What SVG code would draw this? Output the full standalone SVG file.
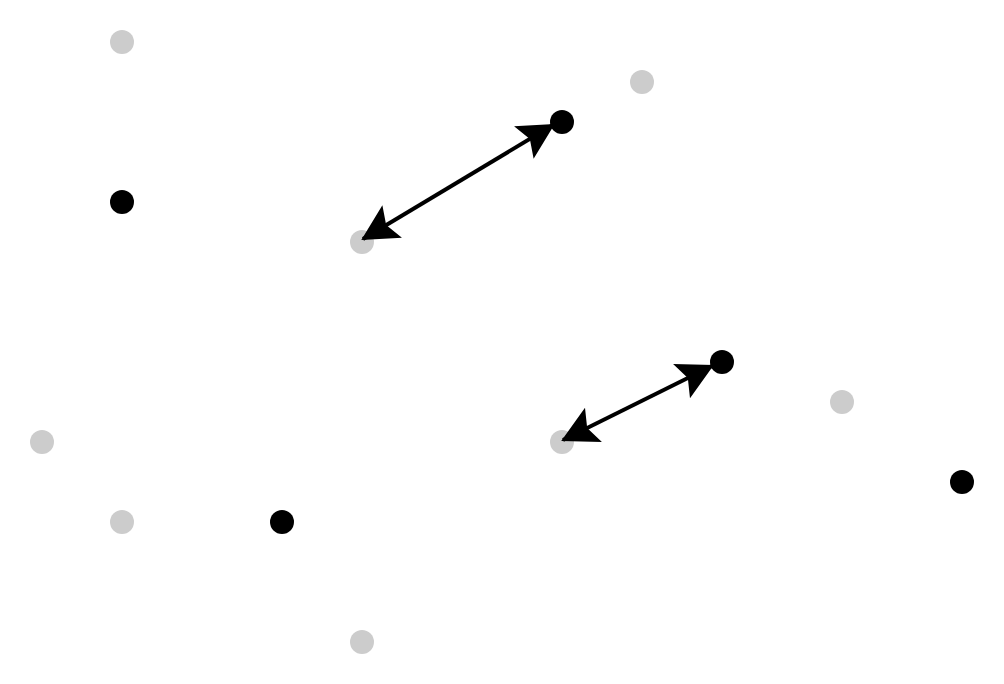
<svg xmlns="http://www.w3.org/2000/svg" width="1004" height="684" viewBox="0 0 1004 684">
<style>
.g{fill:#cccccc}
.b{fill:#000000}
.c{stroke:#000;stroke-width:4;fill:none}
</style>
<defs>
<marker id="ah" markerUnits="userSpaceOnUse" markerWidth="42" markerHeight="44" viewBox="-38 -22 42 44" refX="0" refY="0" orient="auto-start-reverse">
<path d="M2,0 L-34,-19 L-27,0 L-34,19 Z" fill="#000"/>
</marker>
</defs>
<rect width="1004" height="684" fill="#fff"/>
<g id="n1"><circle class="g" cx="122" cy="42" r="12"/></g>
<g id="n2"><circle class="g" cx="642" cy="82" r="12"/></g>
<g id="n3"><circle class="g" cx="362" cy="242" r="12"/></g>
<g id="n4"><circle class="g" cx="42" cy="442" r="12"/></g>
<g id="n5"><circle class="g" cx="122" cy="522" r="12"/></g>
<g id="n6"><circle class="g" cx="562" cy="442" r="12"/></g>
<g id="n7"><circle class="g" cx="842" cy="402" r="12"/></g>
<g id="n8"><circle class="g" cx="362" cy="642" r="12"/></g>
<g id="n9"><circle class="b" cx="562" cy="122" r="12"/></g>
<g id="n10"><circle class="b" cx="122" cy="202" r="12"/></g>
<g id="n11"><circle class="b" cx="722" cy="362" r="12"/></g>
<g id="n12"><circle class="b" cx="962" cy="482" r="12"/></g>
<g id="n13"><circle class="b" cx="282" cy="522" r="12"/></g>
<g id="connectors">
<path class="c" d="M363,239 L553,125" marker-start="url(#ah)" marker-end="url(#ah)"/>
<path class="c" d="M563,440 L712,366" marker-start="url(#ah)" marker-end="url(#ah)"/>
</g>
</svg>
